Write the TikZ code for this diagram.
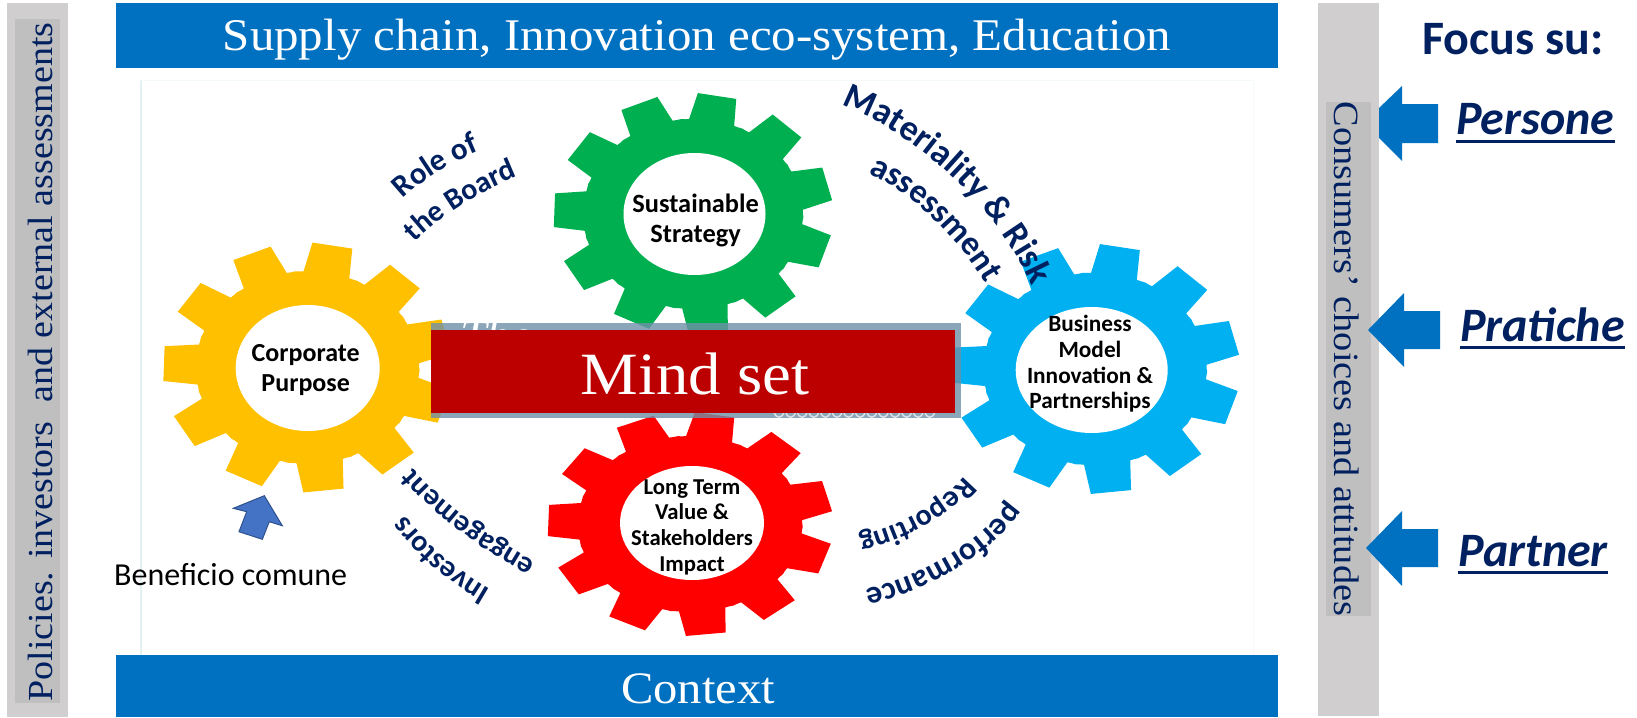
\documentclass[tikz,border=0pt]{standalone}
\usepackage{fontspec}
\setmainfont{Carlito}
\newfontfamily\serifstretch[FakeStretch=1.08]{Liberation Serif}
\usetikzlibrary{decorations.text}
\definecolor{navy}{HTML}{002060}
\definecolor{barblue}{HTML}{0070C0}
\definecolor{sidegrey}{HTML}{D0CECE}
\definecolor{innergrey}{HTML}{BFBFBF}
\definecolor{gearyellow}{HTML}{FFC000}
\definecolor{geargreen}{HTML}{00B050}
\definecolor{gearred}{HTML}{FF0000}
\definecolor{gearblue}{HTML}{00B0F0}
\definecolor{bandred}{HTML}{BC0000}
\definecolor{paleline}{HTML}{E4F1F3}
\newcommand{\fs}[1]{\fontsize{#1}{#1}\selectfont}
\newcommand{\ulbar}[2]{\setbox0\hbox{#2}\rlap{\rule[#1]{\wd0}{3pt}}\box0}
% cx cy rx ry rootfrac colour
\newcommand{\gear}[6]{%
  \begin{scope}[shift={(#1,#2)},x=#3pt,y=#4pt]
    \fill[#6] (88:1)
    \foreach \i in {0,...,10}{
      \pgfextra{\pgfmathsetmacro{\aa}{80-\i*32.7273}}
      -- (\aa+8:1) -- (\aa-8:1) -- (\aa-12:#5)
      -- (\aa-14.2:#5) -- (\aa-16.4:#5*1.005) -- (\aa-18.6:#5) -- (\aa-20.7:#5)
      -- (\aa-24.7:1)
    } -- cycle;
  \end{scope}}
\tikzset{
  curved/.style 2 args={decorate,decoration={text along path,text align=center,
     text={|\fs{#1}\bfseries\color{navy}|#2}}},
  geartext/.style 2 args={font=\fontsize{#1}{#2}\selectfont\bfseries,align=center,text=black,inner sep=0pt},
  sidebar/.style={fill=sidegrey},
  innerbar/.style={fill=innergrey},
  mainbar/.style={fill=barblue},
  focusarrow/.style={fill=barblue},
  hole/.style={fill=white},
  serifwhite/.style={text=white,inner sep=0pt,font=\serifstretch\fs{#1}},
  sidetext/.style={text=navy,inner sep=0pt,font=\serifstretch\fs{#1}},
  focuslabel/.style={text=navy,inner sep=0pt,anchor=base west,font=\fs{#1}\bfseries\itshape},
}
\begin{document}
\begin{tikzpicture}[x=1pt,y=-1pt]
\useasboundingbox (0,0) rectangle (1637,717);
\fill[white] (0,0) rectangle (1637,717);
% pale picture border
\draw[paleline,line width=1.5pt] (141,80) -- (141,655);
\draw[paleline!40,line width=1pt] (141,80) -- (1253,80) -- (1253,655);
% side bars
\fill[sidebar] (7,3) rectangle (68,717);
\fill[innerbar] (15,19) rectangle (60,703);
\fill[sidebar] (1318,3) rectangle (1379,716);
\fill[innerbar] (1326,102) rectangle (1371,616);
\node[sidetext=35.2,rotate=90,anchor=base] (leftlabel) at (52,362) {Policies. investors\ \ and external assessments};
\node[sidetext=35.5,rotate=-90,anchor=base] (rightlabel) at (1334,359) {Consumers’ choices and attitudes};
% main bars
\fill[mainbar] (116,3) rectangle (1278,68);
\fill[mainbar] (116,655) rectangle (1278,717);
\node[serifwhite=45.3] (toplabel) at (697,40) {Supply chain, Innovation eco-system, Education};
\node[serifwhite=45] (bottomlabel) at (698,689) {Context};
% gears
\gear{693}{214}{140}{121}{.785}{geargreen}
\gear{690}{524}{143}{112}{.785}{gearred}
\gear{307.5}{367.5}{145}{125}{.77}{gearyellow}
\gear{1095}{369}{145}{125}{.77}{gearblue}
\fill[hole] (694.5,214) ellipse [x radius=71,y radius=61];
\fill[hole] (692,523) ellipse [x radius=72,y radius=57];
\fill[hole] (307.7,368) ellipse [x radius=72,y radius=63];
\fill[hole] (1091.7,370) ellipse [x radius=76,y radius=63];
\node[geartext={26.4}{30}] (g1) at (695.6,220) {Sustainable\\Strategy};
\node[geartext={22.7}{25.7}] (g2) at (692,527) {Long Term\\Value \&\\Stakeholders\\Impact};
\node[geartext={26}{30}] (g3) at (305.7,370) {Corporate\\Purpose};
\node[geartext={23.3}{25.6}] (g4) at (1090,364) {Business\\Model\\Innovation \&\\Partnerships};
% translucent frame and band
\fill[fill={rgb,255:red,112;green,144;blue,168},opacity=.8] (431,323) rectangle (961,418);
\begin{scope}
  \clip (431,323) rectangle (961,418);
  \node[inner sep=0pt,text=white,font=\itshape\serifstretch\fs{44},anchor=base west] (ghost) at (460,350) {The};
  \foreach \k in {0,...,13}{
    \draw[white,line width=1.4pt,opacity=.7] (774+\k*11.6,412) .. controls (776+\k*11.6,419) and (782+\k*11.6,419) .. (784+\k*11.6,412);
  }
\end{scope}
\fill[bandred] (431,330) rectangle (955,413);
\node[serifwhite=60] (band) at (695,373.5) {Mind set};
% curved labels
\path[curved={31}{Role of}] (399,203) .. controls (424,178) and (454,161) .. (485,149);
\path[curved={30}{the Board}] (410,247) .. controls (441,215) and (481,190) .. (524,174);
\path[curved={36}{Materiality {\&} Risk}] (835,103) .. controls (908,127) and (998,204) .. (1035,292);
\path[curved={34}{assessment}] (856,168) .. controls (904,186) and (959,233) .. (992,295);
\path[curved={30}{Investors}] (491,590) .. controls (465,575) and (435,553) .. (404,515);
\path[curved={30}{engagement}] (538,564) .. controls (500,542) and (450,512) .. (411,466);
\path[curved={32}{performance}] (1012,497) .. controls (985,539) and (925,577) .. (860,591);
\path[curved={30}{Reporting}] (968,471) .. controls (945,503) and (900,528) .. (852,538);
% benefit arrow
\draw[fill={rgb,255:red,68;green,114;blue,196},draw={rgb,255:red,47;green,82;blue,143},line width=1pt,line join=miter]
  (264.3,495.7) -- (282.3,525.7) -- (269.3,521.7) -- (262.3,539.3) -- (239,531.7) -- (246.7,511.7) -- (233.3,508.3) -- cycle;
\node[inner sep=0pt,anchor=base west,font=\fs{32},text=black] (benefit) at (114,585.7) {Beneficio comune};
% focus column
\node[inner sep=0pt,anchor=base west,text=navy,font=\fs{48}\bfseries] (focus) at (1422,55) {Focus su:};
\fill[focusarrow] (1379,108) -- (1402,86) -- (1402,104) -- (1438,104) -- (1438,143) -- (1402,143) -- (1402,161) -- (1379,138) -- cycle;
\fill[focusarrow] (1368,330) -- (1404,293) -- (1404,311) -- (1440,311) -- (1440,349) -- (1404,349) -- (1404,367) -- cycle;
\fill[focusarrow] (1366,548) -- (1402,511) -- (1402,529) -- (1438,529) -- (1438,567) -- (1402,567) -- (1402,586) -- cycle;
\node[focuslabel=48] (p1) at (1456,134.7) {\ulbar{-8pt}{Persone}};
\node[focuslabel=48] (p2) at (1460,341) {\ulbar{-8pt}{Pratiche}};
\node[focuslabel=48] (p3) at (1458,566) {\ulbar{-8pt}{Partner}};
\end{tikzpicture}
\end{document}
